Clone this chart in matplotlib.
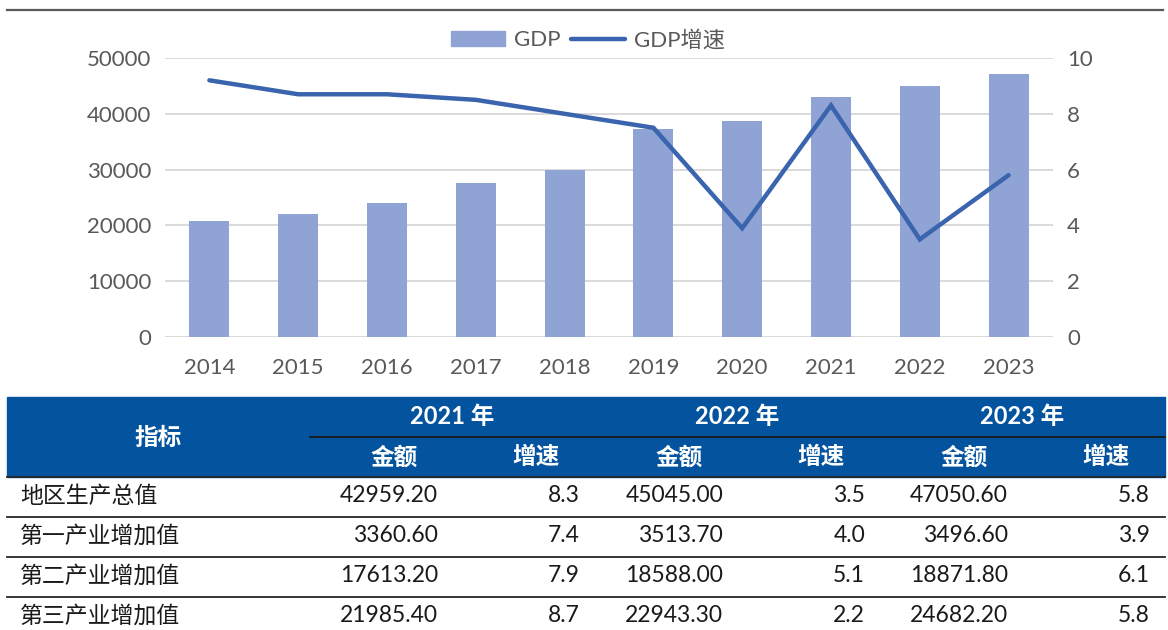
import matplotlib.pyplot as plt
from matplotlib.patches import Rectangle, Patch
from matplotlib.lines import Line2D

plt.rcParams['font.family'] = ['Lato', 'Noto Sans CJK SC', 'DejaVu Sans']

# chart data
years = ['2014', '2015', '2016', '2017', '2018', '2019', '2020', '2021', '2022', '2023']
gdp = [20800, 22000, 24000, 27600, 29900, 37300, 38700, 42959.2, 45045.0, 47050.6]
growth = [9.2, 8.7, 8.7, 8.5, 8.0, 7.5, 3.9, 8.3, 3.5, 5.8]

# table data
tab_years = ['2021 年', '2022 年', '2023 年']
sub_cols = ['金额', '增速']
row_names = ['地区生产总值', '第一产业增加值', '第二产业增加值', '第三产业增加值']
amounts = [
    ['42959.20', '45045.00', '47050.60'],
    ['3360.60', '3513.70', '3496.60'],
    ['17613.20', '18588.00', '18871.80'],
    ['21985.40', '22943.30', '24682.20'],
]
rates = [
    ['8.3', '3.5', '5.8'],
    ['7.4', '4.0', '3.9'],
    ['7.9', '5.1', '6.1'],
    ['8.7', '2.2', '5.8'],
]

W, H = 1168, 630
fig = plt.figure(figsize=(W / 100, H / 100), dpi=100)

bar_color = '#8FA3D4'
line_color = '#3A64AD'
txt_gray = '#595959'

# ---- chart ----
ax = fig.add_axes([165 / W, (H - 337) / H, (1053 - 165) / W, (337 - 58) / H])
x = range(len(years))
ax.bar(x, gdp, width=0.45, color=bar_color, zorder=2)
ax.set_ylim(0, 50000)
ax.set_yticks(range(0, 50001, 10000))
ax.set_xlim(-0.5, len(years) - 0.5)
ax.set_xticks(list(x))
ax.set_xticklabels(years)
ax.yaxis.grid(True, color='#D9D9D9', lw=1.4, zorder=0)
ax.set_axisbelow(True)
for s in ax.spines.values():
    s.set_visible(False)
ax.tick_params(length=0, labelsize=16, colors=txt_gray, pad=10)
ax.tick_params(axis='x', pad=15)

ax2 = ax.twinx()
ax2.plot(x, growth, color=line_color, lw=3.2, solid_capstyle='round', solid_joinstyle='miter', zorder=3)
ax2.set_ylim(0, 10)
ax2.set_yticks(range(0, 11, 2))
for s in ax2.spines.values():
    s.set_visible(False)
ax2.tick_params(length=0, labelsize=16, colors=txt_gray, pad=10)

handles = [Patch(color=bar_color), Line2D([], [], color=line_color, lw=3.2, solid_capstyle='round')]
fig.legend(handles, ['GDP', 'GDP增速'], loc='center', bbox_to_anchor=(588 / W, 1 - 40 / H),
           ncol=2, frameon=False, fontsize=16, labelcolor=txt_gray,
           handlelength=2.4, handleheight=0.7, handletextpad=0.4, columnspacing=0.5)

# ---- overlay for top rule and table ----
ov = fig.add_axes([0, 0, 1, 1], zorder=-1)
ov.set_xlim(0, W)
ov.set_ylim(H, 0)
ov.axis('off')

ov.plot([7, 1163], [10, 10], color='#595959', lw=1.6)

hdr_blue = '#03539E'
ov.add_patch(Rectangle((7, 397), 1158, 80, color=hdr_blue))
ov.plot([310, 1165], [437, 437], color='#1a1a1a', lw=1.3)
ov.text(158, 437, '指标', ha='center', va='center', color='white', fontsize=17, fontweight='bold')

group_left = [310, 595, 880]
for g, yl in zip(group_left, tab_years):
    ov.text(g + 142, 416, yl, ha='center', va='center', color='white', fontsize=17, fontweight='bold')
    ov.text(g + 84, 457, sub_cols[0], ha='center', va='center', color='white', fontsize=17, fontweight='bold')
    ov.text(g + 226, 457, sub_cols[1], ha='center', va='center', color='white', fontsize=17, fontweight='bold')

row_h = 40
for i, name in enumerate(row_names):
    top = 477 + i * row_h
    ov.plot([7, 1165], [top, top], color='#262626', lw=1.3)
    cy = top + row_h / 2 - 1
    ov.text(20, cy, name, ha='left', va='center', color='#1a1a1a', fontsize=16.5)
    for j, g in enumerate(group_left):
        ov.text(g + 128, cy, amounts[i][j], ha='right', va='center', color='#1a1a1a', fontsize=16.5)
        ov.text(g + 270, cy, rates[i][j], ha='right', va='center', color='#1a1a1a', fontsize=16.5)

fig.savefig('out.png', dpi=100)
